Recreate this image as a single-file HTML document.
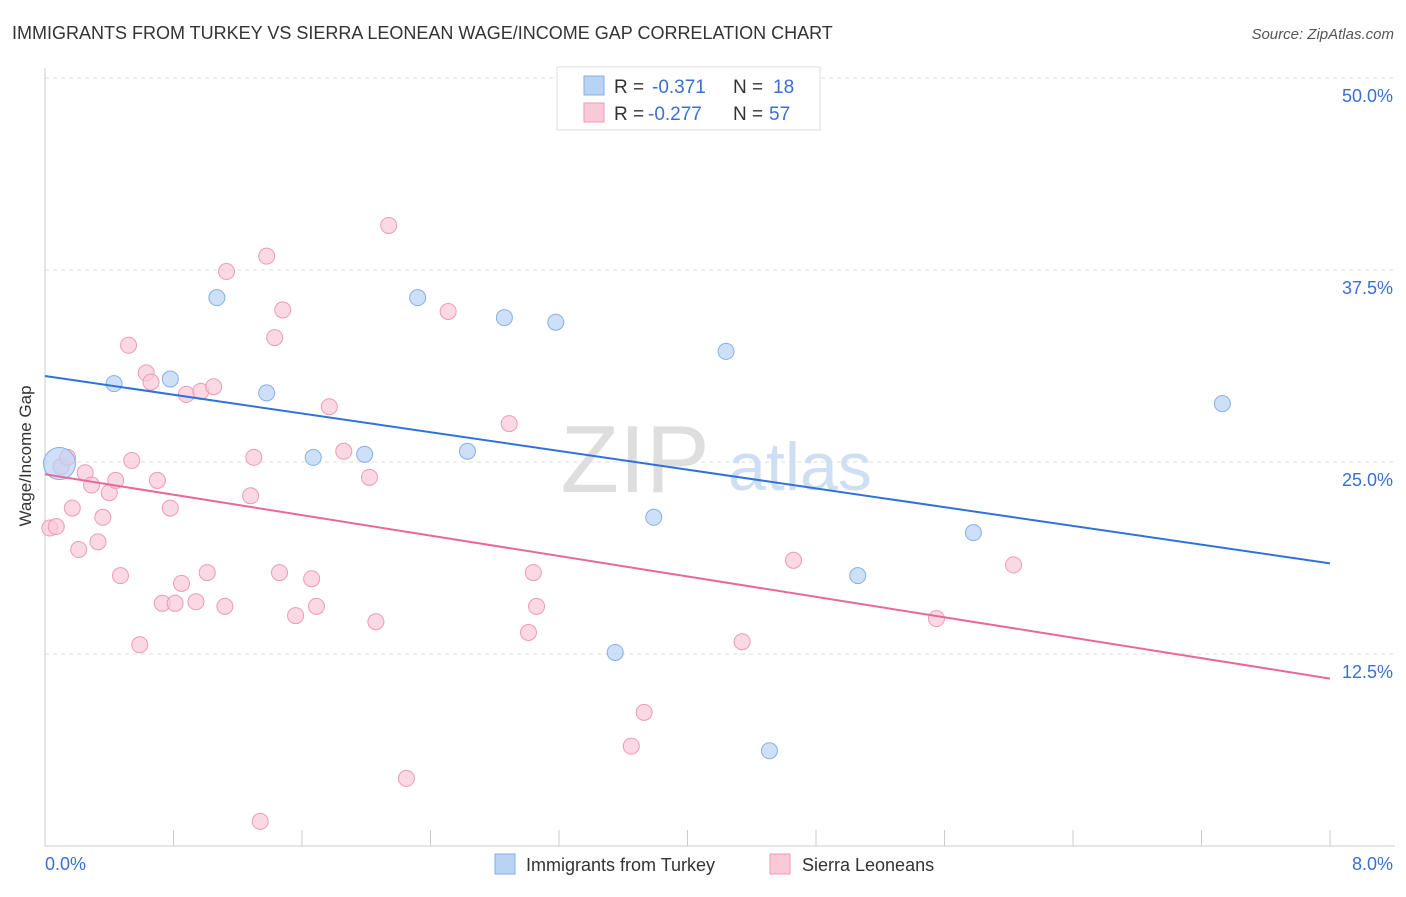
<!DOCTYPE html>
<html><head><meta charset="utf-8"><style>
body{margin:0;background:#fff;font-family:"Liberation Sans",sans-serif;}
svg text{font-family:"Liberation Sans",sans-serif;}
</style></head><body>
<svg id="chart" width="1406" height="892">
<text x="12" y="39" font-size="18" fill="#333">IMMIGRANTS FROM TURKEY VS SIERRA LEONEAN WAGE/INCOME GAP CORRELATION CHART</text>
<text x="1394" y="39" font-size="15" fill="#555" text-anchor="end" font-style="italic">Source: ZipAtlas.com</text>
<g id="grid"></g>
<text x="635" y="492" font-size="96" fill="#dedede" text-anchor="middle" font-family="Liberation Serif">ZIP</text>
<text x="800" y="490" font-size="68" fill="#cfdff3" text-anchor="middle">atlas</text>
<g id="marks"></g>
<text x="37" y="456" font-size="17" fill="#333" text-anchor="middle" transform="rotate(-90 37 456)" dy="-6">Wage/Income Gap</text>
<text x="45" y="870" font-size="18" fill="#3b6fd4">0.0%</text>
<text x="1393" y="870" font-size="18" fill="#3b6fd4" text-anchor="end">8.0%</text>
<g>
<rect x="557" y="67" width="263" height="63" fill="#fff" stroke="#ddd"/>
<rect x="584" y="76" width="20" height="19" fill="#b9d3f5" stroke="#86afe8"/>
<rect x="584" y="103" width="20" height="19" fill="#f9c9d8" stroke="#ee9ab5"/>
<text x="614" y="93" font-size="19" fill="#333">R = </text><text x="652" y="93" font-size="19" fill="#3b6fd4">-0.371</text>
<text x="733" y="93" font-size="19" fill="#333">N = </text><text x="773" y="93" font-size="19" fill="#3b6fd4">18</text>
<text x="614" y="120" font-size="19" fill="#333">R = </text><text x="648" y="120" font-size="19" fill="#3b6fd4">-0.277</text>
<text x="733" y="120" font-size="19" fill="#333">N = </text><text x="769" y="120" font-size="19" fill="#3b6fd4">57</text>
</g>
<g><rect x="495" y="854" width="20" height="20" fill="#b9d3f5" stroke="#86afe8"/><text x="526" y="871" font-size="18" fill="#333">Immigrants from Turkey</text></g>
<g><rect x="770" y="854" width="20" height="20" fill="#f9c9d8" stroke="#ee9ab5"/><text x="802" y="871" font-size="18" fill="#333">Sierra Leoneans</text></g>
</svg>
<script>
const blueX=[0.09,0.43,0.78,1.07,1.38,1.67,1.99,2.32,2.63,2.86,3.18,3.79,3.55,4.24,4.51,5.06,5.78,7.33];
const blueY=[24.9,30.1,30.4,35.7,29.5,25.3,25.5,35.7,25.7,34.4,34.1,21.4,12.6,32.2,6.2,17.6,20.4,28.8];
const pinkX=[0.03,0.07,0.10,0.14,0.17,0.21,0.25,0.29,0.33,0.36,0.40,0.44,0.47,0.52,0.54,0.59,0.63,0.66,0.70,0.73,0.78,0.81,0.85,0.88,0.94,0.97,1.01,1.05,1.12,1.13,1.28,1.30,1.34,1.38,1.43,1.46,1.48,1.56,1.66,1.69,1.77,1.86,2.02,2.06,2.14,2.25,2.51,2.89,3.01,3.04,3.06,3.65,3.73,4.34,4.66,5.55,6.03];
const pinkY=[20.7,20.8,24.7,25.3,22.0,19.3,24.3,23.5,19.8,21.4,23.0,23.8,17.6,32.6,25.1,13.1,30.8,30.2,23.8,15.8,22.0,15.8,17.1,29.4,15.9,29.6,17.8,29.9,15.6,37.4,22.8,25.3,1.6,38.4,33.1,17.8,34.9,15.0,17.4,15.6,28.6,25.7,24.0,14.6,40.4,4.4,34.8,27.5,13.9,17.8,15.6,6.5,8.7,13.3,18.6,14.8,18.3];
const blueTrend=[30.6,18.4];
const pinkTrend=[24.2,10.9];
const yTicks=[12.5,25.0,37.5,50.0];
const xTicks=[0,0.8,1.6,2.4,3.2,4.0,4.8,5.6,6.4,7.2,8.0];
const NS="http://www.w3.org/2000/svg";
const sx=v=>45+v/8*1285, sy=v=>846-v/50*768;
function mk(p,t,a){const e=document.createElementNS(NS,t);for(const k in a)e.setAttribute(k,a[k]);p.appendChild(e);return e;}
const grid=document.getElementById('grid'), marks=document.getElementById('marks');
yTicks.forEach(t=>{
 const l=mk(grid,'line',{x1:45,x2:1395,y1:sy(t),y2:sy(t),stroke:'#ddd','stroke-dasharray':'4 4'});
 
 
 const tx=mk(grid,'text',{x:1393,y:sy(t)+24,'font-size':18,fill:'#3b6fd4','text-anchor':'end'});
 tx.textContent=t.toFixed(1)+'%';
 
 
});
const ax=mk(grid,'line',{x1:45,x2:45,y1:68,y2:846,stroke:'#ccc'});


const bx=mk(grid,'line',{x1:45,x2:1395,y1:846,y2:846,stroke:'#ccc'});


xTicks.forEach(t=>{
 const l=mk(grid,'line',{x1:sx(t),x2:sx(t),y1:830,y2:846,stroke:'#ccc'});
 
 
});
pinkX.forEach((x,i)=>{
 const c=mk(marks,'circle',{cx:sx(x),cy:sy(pinkY[i]),r:8,fill:'#f9c9d8','fill-opacity':0.7,stroke:'#ee9ab5','stroke-width':1});
 
 
});
blueX.forEach((x,i)=>{
 const c=mk(marks,'circle',{cx:sx(x),cy:sy(blueY[i]),r:i===0?16:8,fill:'#b9d3f5','fill-opacity':0.7,stroke:'#86afe8','stroke-width':1});
 
 
});
const lb=mk(marks,'line',{x1:sx(0),y1:sy(blueTrend[0]),x2:sx(8),y2:sy(blueTrend[1]),stroke:'#2f72d9','stroke-width':2});


const lp=mk(marks,'line',{x1:sx(0),y1:sy(pinkTrend[0]),x2:sx(8),y2:sy(pinkTrend[1]),stroke:'#e8689a','stroke-width':2});


</script>
</body></html>
